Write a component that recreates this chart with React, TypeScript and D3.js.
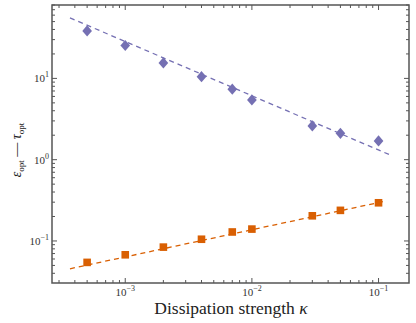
import * as d3 from "d3";
import React, { useEffect, useRef } from "react";

// dissipation strengths (x) of the measured points
const kappa = [5e-4, 1e-3, 2e-3, 4e-3, 7e-3, 1e-2, 3e-2, 5e-2, 1e-1];
// optimal time tau_opt (diamonds)
const tauOpt = [38.4, 25.4, 15.5, 10.5, 7.36, 5.43, 2.6, 2.11, 1.7];
// optimal epsilon eps_opt (squares)
const epsOpt = [0.0545, 0.0676, 0.084, 0.105, 0.129, 0.14, 0.204, 0.238, 0.295];

// power-law fits (dashed), given at their two ends
const fitTauKappa = [3.66e-4, 0.124];
const fitTau = [55.6, 1.14];
const fitEpsKappa = [3.66e-4, 0.114];
const fitEps = [0.0455, 0.31];

const xTickExp = [-3, -2, -1];
const yTickExp = [-1, 0, 1];

const purple = "#7570b3";
const orange = "#d95f02";

export default function App() {
  const ref = useRef<SVGSVGElement>(null);

  useEffect(() => {
    const width = 416;
    const height = 323;
    const margin = { top: 5, right: 7, bottom: 40, left: 52 };
    const svg = d3.select(ref.current);
    svg.selectAll("*").remove();

    const x = d3
      .scaleLog()
      .domain([2.64e-4, 0.174])
      .range([margin.left, width - margin.right]);
    const y = d3
      .scaleLog()
      .domain([0.0304, 80])
      .range([height - margin.bottom, margin.top]);

    const x0 = margin.left;
    const x1 = width - margin.right;
    const y0 = height - margin.bottom;
    const y1 = margin.top;
    const axisColor = "#555";
    const textColor = "#333";
    const font = "'Liberation Serif', 'DejaVu Serif', serif";

    // ticks, inward on all four sides
    const isMajor = (v: number) => Math.abs(Math.log10(v) - Math.round(Math.log10(v))) < 1e-6;
    const ticks = svg.append("g").attr("stroke", axisColor).attr("stroke-width", 1);
    x.ticks().forEach((v) => {
      const len = isMajor(v) ? 5 : 3;
      const px = x(v);
      ticks.append("line").attr("x1", px).attr("x2", px).attr("y1", y0).attr("y2", y0 - len);
      ticks.append("line").attr("x1", px).attr("x2", px).attr("y1", y1).attr("y2", y1 + len);
    });
    y.ticks().forEach((v) => {
      const len = isMajor(v) ? 5 : 3;
      const py = y(v);
      ticks.append("line").attr("x1", x0).attr("x2", x0 + len).attr("y1", py).attr("y2", py);
      ticks.append("line").attr("x1", x1).attr("x2", x1 - len).attr("y1", py).attr("y2", py);
    });

    // frame
    svg
      .append("rect")
      .attr("x", x0)
      .attr("y", y1)
      .attr("width", x1 - x0)
      .attr("height", y0 - y1)
      .attr("fill", "none")
      .attr("stroke", axisColor)
      .attr("stroke-width", 1.5);

    // tick labels
    const power = (g: any, e: number) => {
      g.append("tspan").text("10");
      g.append("tspan")
        .attr("dy", -5)
        .attr("font-size", 8)
        .text(e < 0 ? "\u2212" + Math.abs(e) : String(e));
    };
    xTickExp.forEach((e) => {
      const t = svg
        .append("text")
        .attr("x", x(Math.pow(10, e)))
        .attr("y", y0 + 13)
        .attr("text-anchor", "middle")
        .attr("font-family", font)
        .attr("font-size", 11)
        .attr("fill", textColor);
      power(t, e);
    });
    yTickExp.forEach((e) => {
      const t = svg
        .append("text")
        .attr("x", x0 - 3)
        .attr("y", y(Math.pow(10, e)) + 4)
        .attr("text-anchor", "end")
        .attr("font-family", font)
        .attr("font-size", 11)
        .attr("fill", textColor);
      power(t, e);
    });

    // axis labels
    const xl = svg
      .append("text")
      .attr("x", 231)
      .attr("y", 314)
      .attr("text-anchor", "middle")
      .attr("font-family", font)
      .attr("font-size", 17.5)
      .attr("fill", "#222");
    xl.append("tspan").text("Dissipation strength ");
    xl.append("tspan").attr("font-style", "italic").text("\u03ba");

    const yl = svg
      .append("text")
      .attr("transform", "translate(21,150) rotate(-90)")
      .attr("text-anchor", "middle")
      .attr("font-family", font)
      .attr("font-size", 14)
      .attr("fill", "#222");
    yl.append("tspan").attr("font-style", "italic").text("\u03b5");
    yl.append("tspan").attr("font-size", 9).attr("dy", 3).text("opt");
    yl.append("tspan").attr("dy", -3).text(" \u2014 ");
    yl.append("tspan").attr("font-style", "italic").text("\u03c4");
    yl.append("tspan").attr("font-size", 9).attr("dy", 3).text("opt");

    // fitted dashed lines
    const line = d3
      .line<[number, number]>()
      .x((d) => x(d[0]))
      .y((d) => y(d[1]));
    svg
      .append("path")
      .attr("d", line(d3.zip(fitTauKappa, fitTau) as [number, number][]))
      .attr("fill", "none")
      .attr("stroke", purple)
      .attr("stroke-width", 1.3)
      .attr("stroke-dasharray", "5,4");
    svg
      .append("path")
      .attr("d", line(d3.zip(fitEpsKappa, fitEps) as [number, number][]))
      .attr("fill", "none")
      .attr("stroke", orange)
      .attr("stroke-width", 1.3)
      .attr("stroke-dasharray", "5,4");

    // markers
    const diamond = d3.symbol().type(d3.symbolSquare).size(52);
    svg
      .append("g")
      .selectAll("path")
      .data(d3.range(kappa.length))
      .join("path")
      .attr("d", diamond)
      .attr("transform", (i) => `translate(${x(kappa[i])},${y(tauOpt[i])}) scale(0.95,1.1) rotate(45)`)
      .attr("fill", purple);
    svg
      .append("g")
      .selectAll("rect")
      .data(d3.range(kappa.length))
      .join("rect")
      .attr("x", (i) => x(kappa[i]) - 3.8)
      .attr("y", (i) => y(epsOpt[i]) - 3.8)
      .attr("width", 7.6)
      .attr("height", 7.6)
      .attr("fill", orange);
  }, []);

  return (
    <svg
      ref={ref}
      width={416}
      height={323}
      style={{ position: "absolute", left: 0, top: 0, background: "#fff" }}
    ></svg>
  );
}
